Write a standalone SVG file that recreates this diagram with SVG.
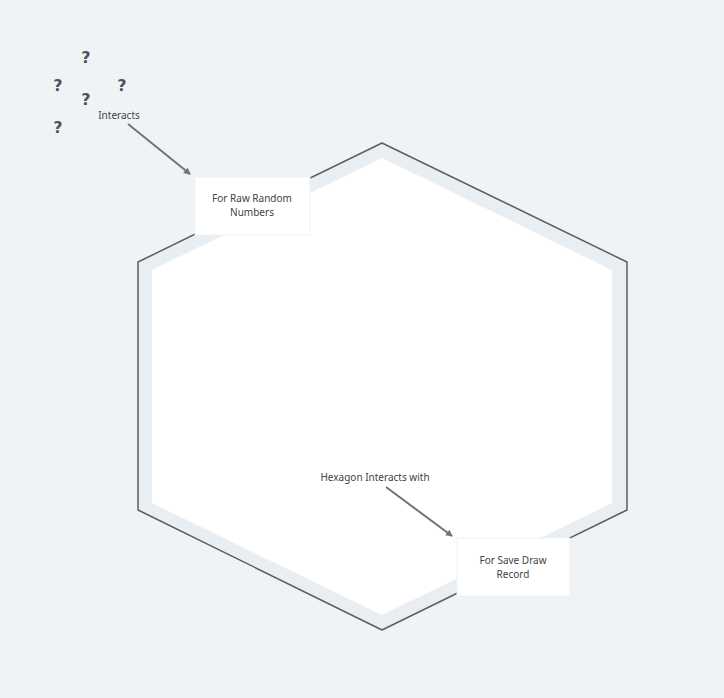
<svg xmlns="http://www.w3.org/2000/svg" width="724" height="698" viewBox="0 0 724 698">
<style>
.lbl{font-family:"Noto Sans","DejaVu Sans",sans-serif;font-size:10px;fill:#3f4346;text-anchor:middle}
.q{font-family:"DejaVu Sans","Liberation Sans",sans-serif;font-size:16px;font-weight:bold;fill:#4f5357;text-anchor:middle}
.box{fill:#ffffff;stroke:#eef1f4;stroke-width:1}
.edge{stroke:#6f7479;stroke-width:2;fill:none;marker-end:url(#ah)}
</style>
<defs>
<marker id="ah" markerWidth="8" markerHeight="8" refX="6" refY="4" orient="auto" markerUnits="userSpaceOnUse">
<path d="M0,0.5 L7,4 L0,7.5 Z" fill="#6f7479"/>
</marker>
</defs>
<rect width="724" height="698" fill="#f0f3f6"/>
<g id="hexagon">
<path d="M382,143 L627,262 L627,510 L382,630 L138,510 L138,262 Z" fill="#e9eef2" stroke="#5a5e62" stroke-width="1.5" stroke-linejoin="round"/>
<path d="M382,158 L612,270 L612,503 L382,615 L152,503 L152,270 Z" fill="#ffffff"/>
</g>
<g id="questions">
<text class="q" x="86" y="63">?</text>
<text class="q" x="58" y="91">?</text>
<text class="q" x="122" y="91">?</text>
<text class="q" x="86" y="105">?</text>
<text class="q" x="58" y="133">?</text>
</g>
<g id="raw-random">
<rect class="box" x="195" y="177" width="115" height="58"/>
<text class="lbl" x="252" y="202">For Raw Random</text>
<text class="lbl" x="252" y="216">Numbers</text>
</g>
<g id="save-draw">
<rect class="box" x="457" y="538" width="113" height="58"/>
<text class="lbl" x="513" y="564">For Save Draw</text>
<text class="lbl" x="513" y="578">Record</text>
</g>
<g id="connectors">
<path class="edge" d="M128,124 L190,174"/>
<path class="edge" d="M386,487 L452,536"/>
<text class="lbl" x="119" y="119">Interacts</text>
<text class="lbl" x="375" y="481">Hexagon Interacts with</text>
</g>
</svg>
